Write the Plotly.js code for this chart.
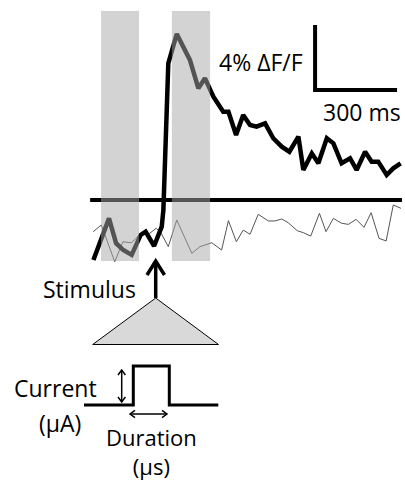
<!DOCTYPE html>
<html>
<head>
<meta charset="utf-8">
<script src="https://cdn.plot.ly/plotly-3.0.1.min.js"></script>
<style>
html,body{margin:0;padding:0;background:#fff;}
#chart{width:405px;height:481px;}
</style>
</head>
<body>
<div id="chart"></div>
<script>
// ---- Data (time in ms relative to stimulus, response in % dF/F) ----
const stimTimes = [-229,-172,-146,-120,-89,-56,-38,-7,21,27,45,76,124,155,179,210,246,265,293,319,344,368,399,429,460,488,521,539,570,594,625,649,679,710,734,765,789,813,844,868,895];
const stimDff   = [-3.69,-1.13,-2.66,-3.08,-3.38,-2.15,-1.95,-2.83,-1.64,-0.62,8.41,10.22,8.62,6.87,7.49,6.36,5.43,5.43,4.00,5.23,4.62,4.51,4.72,3.80,3.28,2.97,3.90,1.85,2.87,2.26,3.80,3.49,2.26,2.57,1.85,2.97,2.36,2.36,1.54,1.95,2.26];

const ctrlTimes = [-230,-200,-151,-121,-90,-60,-23,1,19,45,76,131,161,204,240,265,294,319,344,374,411,435,460,484,517,539,566,598,622,649,679,704,732,761,787,816,842,868,896];
const ctrlDff   = [-1.95,-1.54,-3.80,-2.57,-2.63,-2.15,-2.05,-1.74,-2.05,-2.87,-1.23,-3.28,-2.87,-2.63,-3.08,-1.27,-2.57,-1.85,-2.11,-0.88,-1.29,-1.29,-1.17,-1.40,-1.89,-2.01,-2.22,-0.82,-1.95,-1.13,-1.43,-1.50,-1.19,-1.68,-0.78,-2.36,-2.52,-0.31,-0.51];

// Shaded analysis windows [start, end] in ms
const windowStarts = [-201, 58];
const windowEnds   = [-62, 198];

// Scale bar
const scaleBarMs = 300;
const scaleBarPct = 4;
const scaleLabels = ['4% \u0394F/F', '300 ms'];

// Schematic labels
const schematicLabels = ['Stimulus', 'Current', '(\u03bcA)', 'Duration', '(\u03bcs)'];

// ---- Layout helpers ----
const W = 405, H = 481;
const pxX = x => x / W;
const pxY = y => 1 - y / H;
const FONT = {family: 'Open Sans, DejaVu Sans, sans-serif', size: 23, color: '#000'};
const FONT_SM = {family: 'Open Sans, DejaVu Sans, sans-serif', size: 22, color: '#000'};

const traces = [
  {x: ctrlTimes, y: ctrlDff, mode: 'lines', line: {color: '#555', width: 1}, hoverinfo: 'skip', showlegend: false},
  {x: stimTimes, y: stimDff, mode: 'lines', line: {color: '#000', width: 4.5}, hoverinfo: 'skip', showlegend: false}
];

const shapes = [];
// baseline
shapes.push({type: 'line', xref: 'x', yref: 'y', x0: -241, x1: 900, y0: 0, y1: 0,
  line: {color: '#000', width: 4}, layer: 'below'});
// windows
for (let i = 0; i < windowStarts.length; i++) {
  shapes.push({type: 'rect', xref: 'x', yref: 'y', x0: windowStarts[i], x1: windowEnds[i], y0: -3.75, y1: 11.63,
    fillcolor: 'rgba(168,168,168,0.5)', line: {width: 0}, layer: 'above'});
}
// scale bar
const sbX = 582, sbY = 6.77;
shapes.push({type: 'path', xref: 'x', yref: 'y',
  path: `M ${sbX},${sbY + scaleBarPct} L ${sbX},${sbY} L ${sbX + scaleBarMs},${sbY}`,
  line: {color: '#000', width: 4}});

// schematic (paper coordinates)
const P = (x, y) => `${pxX(x)},${pxY(y)}`;
// stimulus arrow
shapes.push({type: 'path', xref: 'paper', yref: 'paper', path: `M ${P(155.7,298)} L ${P(155.7,262)}`, line: {color: '#000', width: 3.5}});
shapes.push({type: 'path', xref: 'paper', yref: 'paper', path: `M ${P(147,275)} L ${P(155.7,261)} L ${P(164.5,275)}`, line: {color: '#000', width: 3.5}});
// electrode triangle
shapes.push({type: 'path', xref: 'paper', yref: 'paper', path: `M ${P(155.7,298)} L ${P(92.7,344.5)} L ${P(218.5,344.5)} Z`,
  fillcolor: '#d9d9d9', line: {color: '#000', width: 1}});
// pulse
shapes.push({type: 'path', xref: 'paper', yref: 'paper',
  path: `M ${P(84,405)} L ${P(133.3,405)} L ${P(133.3,366)} L ${P(169.3,366)} L ${P(169.3,405)} L ${P(218.3,405)}`,
  line: {color: '#000', width: 3}});
// vertical double arrow
shapes.push({type: 'path', xref: 'paper', yref: 'paper', path: `M ${P(121.7,370)} L ${P(121.7,402)}`, line: {color: '#000', width: 1.5}});
shapes.push({type: 'path', xref: 'paper', yref: 'paper', path: `M ${P(118,375)} L ${P(121.7,370)} L ${P(125.4,375)}`, line: {color: '#000', width: 1.5}});
shapes.push({type: 'path', xref: 'paper', yref: 'paper', path: `M ${P(118,397)} L ${P(121.7,402)} L ${P(125.4,397)}`, line: {color: '#000', width: 1.5}});
// horizontal double arrow
shapes.push({type: 'path', xref: 'paper', yref: 'paper', path: `M ${P(130,414)} L ${P(167,414)}`, line: {color: '#000', width: 1.5}});
shapes.push({type: 'path', xref: 'paper', yref: 'paper', path: `M ${P(135,410.3)} L ${P(130,414)} L ${P(135,417.7)}`, line: {color: '#000', width: 1.5}});
shapes.push({type: 'path', xref: 'paper', yref: 'paper', path: `M ${P(162,410.3)} L ${P(167,414)} L ${P(162,417.7)}`, line: {color: '#000', width: 1.5}});

const annotations = [
  {text: scaleLabels[0], xref: 'x', yref: 'y', x: 545, y: 8.49, xanchor: 'right', yanchor: 'middle', showarrow: false, font: FONT},
  {text: scaleLabels[1], xref: 'x', yref: 'y', x: 754, y: 5.42, xanchor: 'center', yanchor: 'middle', showarrow: false, font: FONT},
  {text: schematicLabels[0], xref: 'paper', yref: 'paper', x: pxX(89.5), y: pxY(289), xanchor: 'center', yanchor: 'middle', showarrow: false, font: FONT},
  {text: schematicLabels[1], xref: 'paper', yref: 'paper', x: pxX(56), y: pxY(388), xanchor: 'center', yanchor: 'middle', showarrow: false, font: FONT},
  {text: schematicLabels[2], xref: 'paper', yref: 'paper', x: pxX(59.5), y: pxY(423), xanchor: 'center', yanchor: 'middle', showarrow: false, font: FONT},
  {text: schematicLabels[3] + '<br>' + schematicLabels[4], xref: 'paper', yref: 'paper', x: pxX(151), y: pxY(451), xanchor: 'center', yanchor: 'middle', align: 'center', showarrow: false, font: FONT_SM}
];

// axis mapping: stimulus at x=156 px, 300 ms = 82 px; 0% at y=200 px, 4% = 65 px
const msPerPx = 300 / 82;
const pctPerPx = 4 / 65;
const layout = {
  width: W, height: H,
  margin: {l: 0, r: 0, t: 0, b: 0, pad: 0},
  paper_bgcolor: '#fff', plot_bgcolor: '#fff',
  xaxis: {range: [-156 * msPerPx, (W - 156) * msPerPx], visible: false, fixedrange: true},
  yaxis: {range: [-(H - 200) * pctPerPx, 200 * pctPerPx], visible: false, fixedrange: true},
  shapes: shapes,
  annotations: annotations,
  showlegend: false
};

Plotly.newPlot('chart', traces, layout, {staticPlot: true, displayModeBar: false});
</script>
</body>
</html>
